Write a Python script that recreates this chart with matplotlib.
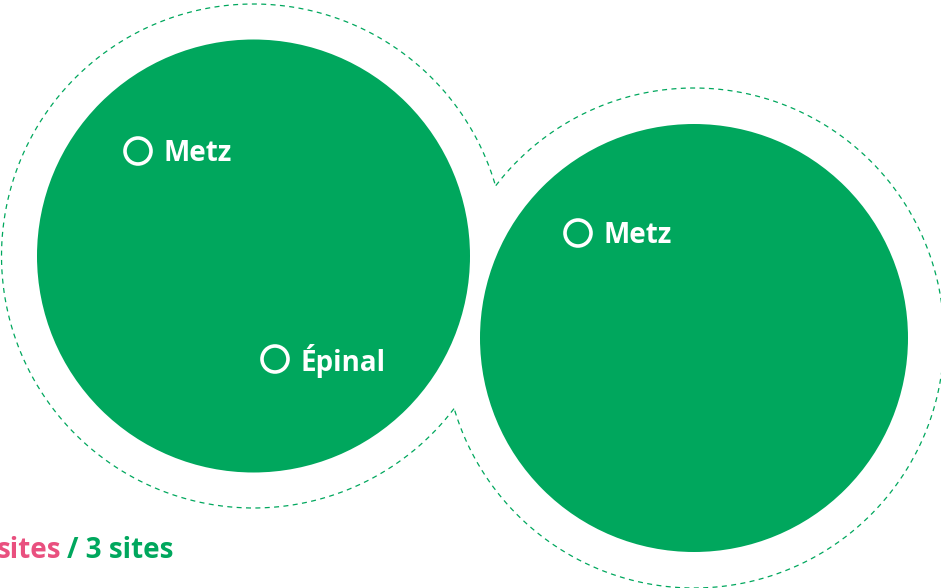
"""Two green site bubbles with dashed halos and city markers."""
import numpy as np
from matplotlib import pyplot as plt
from matplotlib.patches import Circle

GREEN = "#00a75d"
PINK = "#e9507f"

# bubbles: centre x, centre y (pixels, y down), radius of fill, radius of halo
bubble_x = [253.5, 694.0]
bubble_y = [256.0, 338.0]
bubble_r = [216.5, 214.0]
halo_r = [252.0, 250.0]

# city markers
city_names = ["Metz", "Épinal", "Metz"]
city_x = [138, 275, 578]
city_y = [151, 359, 233]

legend_left = "sites"
legend_right = "/ 3 sites"


def halo_points(i):
    """Points of halo i, with the part inside the other halo masked."""
    t = np.linspace(0, 2 * np.pi, 2000)
    x = bubble_x[i] + halo_r[i] * np.cos(t)
    y = bubble_y[i] + halo_r[i] * np.sin(t)
    j = 1 - i
    inside = np.hypot(x - bubble_x[j], y - bubble_y[j]) < halo_r[j]
    x[inside] = np.nan
    y[inside] = np.nan
    return x, y


def main():
    plt.rcParams['font.family'] = ['Open Sans', 'DejaVu Sans']
    fig = plt.figure(figsize=(9.41, 5.88), dpi=100)
    ax = fig.add_axes([0, 0, 1, 1])
    ax.set_xlim(0, 941)
    ax.set_ylim(588, 0)
    ax.set_aspect('equal')
    ax.axis('off')

    for i in range(len(bubble_x)):
        x, y = halo_points(i)
        ax.plot(x, y, color=GREEN, lw=0.9, ls=(0, (4, 3.5)))
        ax.add_patch(Circle((bubble_x[i], bubble_y[i]), bubble_r[i],
                            color=GREEN, lw=0))

    for name, x, y in zip(city_names, city_x, city_y):
        ax.add_patch(Circle((x, y), 13, fill=False, ec="white", lw=2.6))
        ax.text(x + 26, y + 2.5, name, color="white", fontsize=20,
                fontweight='bold', ha='left', va='center')

    ax.text(61, 551, legend_left, color=PINK, fontsize=20,
            fontweight='bold', ha='right', va='center')
    ax.text(67, 551, legend_right, color=GREEN, fontsize=20,
            fontweight='bold', ha='left', va='center')

    fig.savefig("out.png", dpi=100)


if __name__ == '__main__':
    main()
